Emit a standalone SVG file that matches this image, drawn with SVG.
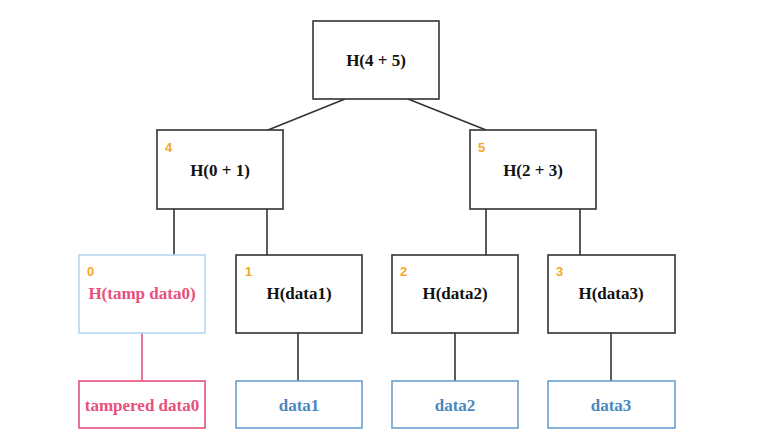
<svg xmlns="http://www.w3.org/2000/svg" width="759" height="440" viewBox="0 0 759 440">
<style>
.box{fill:#fff;stroke:#333;stroke-width:1.6}
.t{font-family:'Liberation Serif','DejaVu Serif',Tinos,'Times New Roman',serif;font-weight:bold;font-size:17px;fill:#111;text-anchor:middle}
.n{font-family:'Liberation Sans',Arial,sans-serif;font-weight:bold;font-size:13px;fill:#f5a623}
.leaf{fill:#fff;stroke:#6b9fcf;stroke-width:1.6}
.lt{font-family:'Liberation Serif','DejaVu Serif',Tinos,'Times New Roman',serif;font-weight:bold;font-size:17px;fill:#4a86bf;text-anchor:middle}
.pink{fill:#e8507a}
.edge{stroke:#333;stroke-width:1.6;fill:none}
</style>
<rect width="759" height="440" fill="#fff"/>
<g id="connectors">
<line class="edge" x1="345" y1="99" x2="268" y2="130"/>
<line class="edge" x1="408" y1="99" x2="486" y2="130"/>
<line class="edge" x1="174" y1="209" x2="174" y2="255"/>
<line class="edge" x1="267" y1="209" x2="267" y2="255"/>
<line class="edge" x1="486" y1="209" x2="486" y2="255"/>
<line class="edge" x1="580" y1="209" x2="580" y2="255"/>
<line class="edge" x1="142" y1="333" x2="142" y2="381" style="stroke:#e8507a"/>
<line class="edge" x1="298" y1="333" x2="298" y2="381"/>
<line class="edge" x1="455" y1="333" x2="455" y2="381"/>
<line class="edge" x1="611" y1="333" x2="611" y2="381"/>
</g>
<g id="root">
<rect class="box" x="313" y="21" width="126" height="78"/>
<text class="t" x="376" y="66">H(4 + 5)</text>
</g>
<g id="n4">
<rect class="box" x="157" y="130" width="126" height="79"/>
<text class="n" x="165" y="152">4</text>
<text class="t" x="220" y="176">H(0 + 1)</text>
</g>
<g id="n5">
<rect class="box" x="470" y="130" width="126" height="79"/>
<text class="n" x="478" y="152">5</text>
<text class="t" x="533" y="176">H(2 + 3)</text>
</g>
<g id="n0">
<rect class="box" x="79" y="255" width="126" height="78" style="stroke:#b8d4f5"/>
<text class="n" x="87" y="276">0</text>
<text class="t pink" x="142" y="299">H(tamp data0)</text>
</g>
<g id="n1">
<rect class="box" x="236" y="255" width="126" height="78"/>
<text class="n" x="245" y="276">1</text>
<text class="t" x="299" y="299">H(data1)</text>
</g>
<g id="n2">
<rect class="box" x="392" y="255" width="126" height="78"/>
<text class="n" x="400" y="276">2</text>
<text class="t" x="455" y="299">H(data2)</text>
</g>
<g id="n3">
<rect class="box" x="548" y="255" width="127" height="78"/>
<text class="n" x="556" y="276">3</text>
<text class="t" x="611" y="299">H(data3)</text>
</g>
<g id="d0">
<rect class="leaf" x="79" y="381" width="126" height="47" style="stroke:#e8507a"/>
<text class="lt pink" x="142" y="411">tampered data0</text>
</g>
<g id="d1">
<rect class="leaf" x="236" y="381" width="126" height="47"/>
<text class="lt" x="299" y="411">data1</text>
</g>
<g id="d2">
<rect class="leaf" x="392" y="381" width="126" height="47"/>
<text class="lt" x="455" y="411">data2</text>
</g>
<g id="d3">
<rect class="leaf" x="548" y="381" width="127" height="47"/>
<text class="lt" x="611" y="411">data3</text>
</g>
</svg>
